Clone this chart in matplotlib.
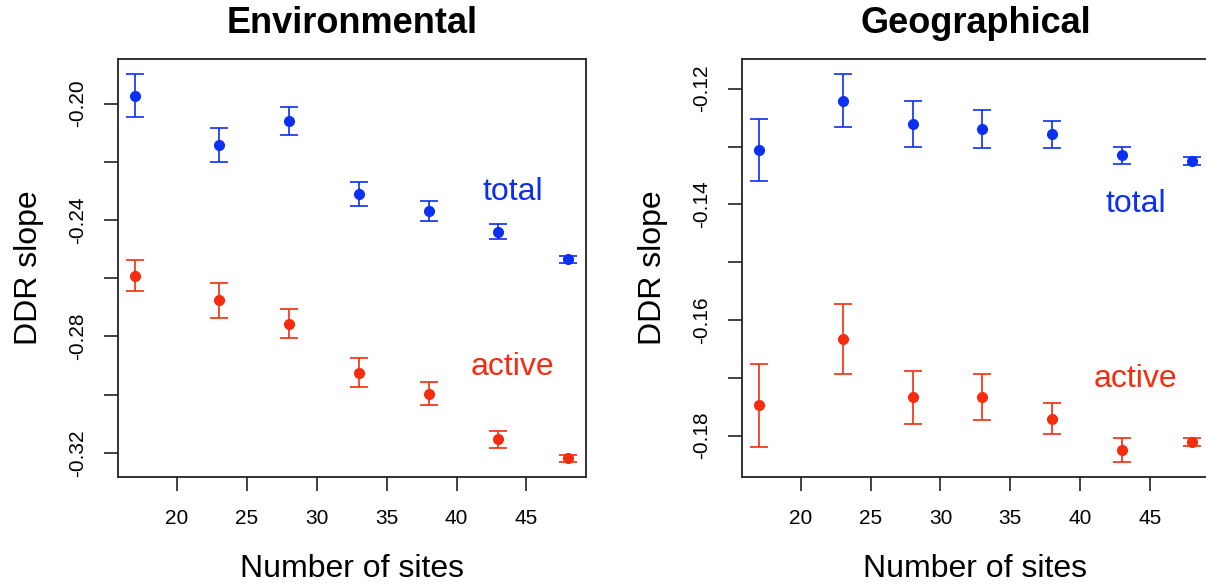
import matplotlib
matplotlib.use("Agg")
import matplotlib.pyplot as plt
import numpy as np

plt.rcParams['font.family'] = ['Liberation Sans', 'DejaVu Sans']

sites = [17, 23, 28, 33, 38, 43, 48]

env_total = [-0.1972, -0.2141, -0.2059, -0.2310, -0.2369, -0.2440, -0.2534]
env_total_err = [0.0073, 0.0059, 0.0048, 0.0041, 0.0033, 0.0025, 0.0012]
env_active = [-0.2591, -0.2676, -0.2756, -0.2925, -0.2997, -0.3153, -0.3218]
env_active_err = [0.0054, 0.0060, 0.0050, 0.0050, 0.0039, 0.0029, 0.0012]

geo_total = [-0.1306, -0.1221, -0.1261, -0.1269, -0.1279, -0.1315, -0.1325]
geo_total_err = [0.0053, 0.0046, 0.0040, 0.0033, 0.0024, 0.0015, 0.0007]
geo_active = [-0.1748, -0.1633, -0.1734, -0.1733, -0.1771, -0.1825, -0.1812]
geo_active_err = [0.0072, 0.0060, 0.0046, 0.0040, 0.0027, 0.0020, 0.0007]

titles = ["Environmental", "Geographical"]
xlabel = "Number of sites"
ylabel = "DDR slope"
xticks = [20, 25, 30, 35, 40, 45]
env_yticks = [-0.20, -0.22, -0.24, -0.26, -0.28, -0.30, -0.32]
env_ylabels = ["-0.20", "", "-0.24", "", "-0.28", "", "-0.32"]
geo_yticks = [-0.12, -0.13, -0.14, -0.15, -0.16, -0.17, -0.18]
geo_ylabels = ["-0.12", "", "-0.14", "", "-0.16", "", "-0.18"]
label_pos = {"total": (44.0, [-0.2302, -0.1400]), "active": (44.0, [-0.2906, -0.1703])}

BLUE = '#0c30f2'
RED = '#f52c0e'

W, H = 1206, 586
fig = plt.figure(figsize=(W / 100, H / 100), dpi=100)

boxes = [(117.7, 585.7), (741.7, 1209.0)]
ytop, ybot = 58.8, 477.0
box_h = ybot - ytop

panels = [
    (env_total, env_total_err, env_active, env_active_err, env_yticks, env_ylabels),
    (geo_total, geo_total_err, geo_active, geo_active_err, geo_yticks, geo_ylabels),
]

for i, (tot, tot_e, act, act_e, yt, yl) in enumerate(panels):
    x0, x1 = boxes[i]
    bw = x1 - x0
    ax = fig.add_axes([x0 / W, (H - ybot) / H, bw / W, box_h / H])
    kw = dict(fmt='o', markersize=7.0, capsize=6.5, elinewidth=1.2, capthick=1.2)
    ax.errorbar(sites, tot, yerr=tot_e, color=BLUE, ecolor=BLUE, **kw)
    ax.errorbar(sites, act, yerr=act_e, color=RED, ecolor=RED, **kw)

    lo = min(np.array(act) - np.array(act_e))
    hi = max(np.array(tot) + np.array(tot_e))
    r = hi - lo
    ax.set_ylim(lo - 0.04 * r, hi + 0.04 * r)
    xr = max(sites) - min(sites)
    ax.set_xlim(min(sites) - 0.04 * xr, max(sites) + 0.04 * xr)

    ax.set_xticks(xticks)
    ax.set_xticklabels([str(t) for t in xticks])
    ax.set_yticks(yt)
    ax.set_yticklabels(yl, rotation=90, va='center')
    ax.tick_params(axis='both', length=9.8, width=1.2, color='#222222',
                   labelsize=15, direction='out')
    ax.tick_params(axis='x', pad=13.0)
    ax.tick_params(axis='y', pad=12.0)
    for s in ax.spines.values():
        s.set_linewidth(1.3)
        s.set_color('#222222')

    ax.set_xlabel(xlabel, fontsize=23, va='baseline')
    ax.xaxis.set_label_coords(0.5, (ybot - 577.0) / box_h)
    ax.set_ylabel(ylabel, fontsize=23, va='baseline')
    ax.yaxis.set_label_coords(-81.0 / bw, 0.5)

    ax.text(0.5, (ybot - 33.3) / box_h, titles[i], transform=ax.transAxes,
            ha='center', va='baseline', fontsize=26, fontweight='bold')

    tx, tys = label_pos["total"]
    ax.text(tx, tys[i], "total", color=BLUE, fontsize=23, ha='center', va='center')
    ax_, ays = label_pos["active"]
    ax.text(ax_, ays[i], "active", color=RED, fontsize=23, ha='center', va='center')

fig.savefig("out.png", dpi=100)
